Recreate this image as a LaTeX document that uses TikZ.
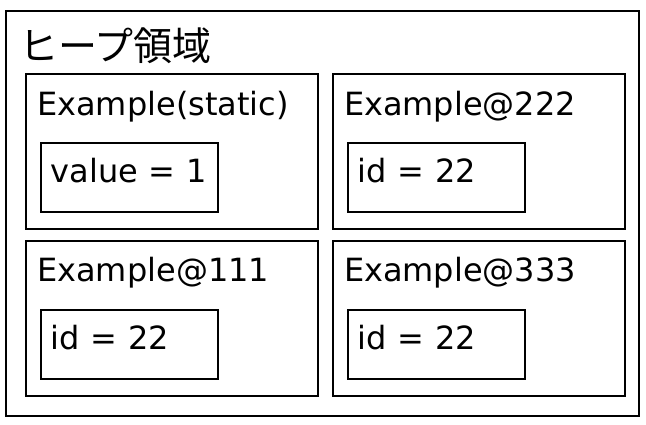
\documentclass[tikz,border=0pt]{standalone}
\usepackage{fontspec}
\setmainfont{DejaVu Sans}
\newfontfamily\jpfont{Noto Sans CJK JP}
\usetikzlibrary{positioning,calc}
\tikzset{
    heap/.style = {draw, rectangle, line width=1.8pt,
        minimum width=633pt, minimum height=405pt, anchor=north west, inner sep=0pt},
    obj/.style = {draw, rectangle, line width=1.8pt,
        minimum width=292pt, minimum height=155pt, inner sep=0pt},
    field/.style = {draw, rectangle, line width=1.8pt, anchor=north west,
        minimum width=177pt, minimum height=69pt, text width=157pt, inner xsep=10pt,
        text height=20pt, text depth=9pt, align=left, font=\fontsize{32}{32}\selectfont},
    title/.style = {anchor=base west, inner sep=0pt, font=\fontsize{32}{32}\selectfont}
}

\begin{document}
\begin{tikzpicture}[x=1pt, y=-1pt]
        \useasboundingbox (0,0) rectangle (646,424);
        \node [heap] (heap) at (5,10) {};
        \node [title, font=\jpfont\fontsize{39}{39}\selectfont] (heaptitle) at ($(heap.north west)+(14,50)$) {ヒープ領域};
        \node [obj, anchor=north west] (objA) at (25,73) {};
        \node [obj, right=13pt of objA] (objB) {};
        \node [obj, below=10pt of objA] (objC) {};
        \node [obj, right=13pt of objC] (objD) {};
        \foreach \o/\t/\f in {objA/{Example(static)}/{value = 1}, objB/{Example@222}/{id = 22},
                objC/{Example@111}/{id = 22}, objD/{Example@333}/{id = 22}} {
            \node [title] (\o-title) at ($(\o.north west)+(12,42)$) {\t};
            \node [field] (\o-field) at ($(\o.north west)+(15,69)$) {\f};
        }
\end{tikzpicture}
\end{document}
